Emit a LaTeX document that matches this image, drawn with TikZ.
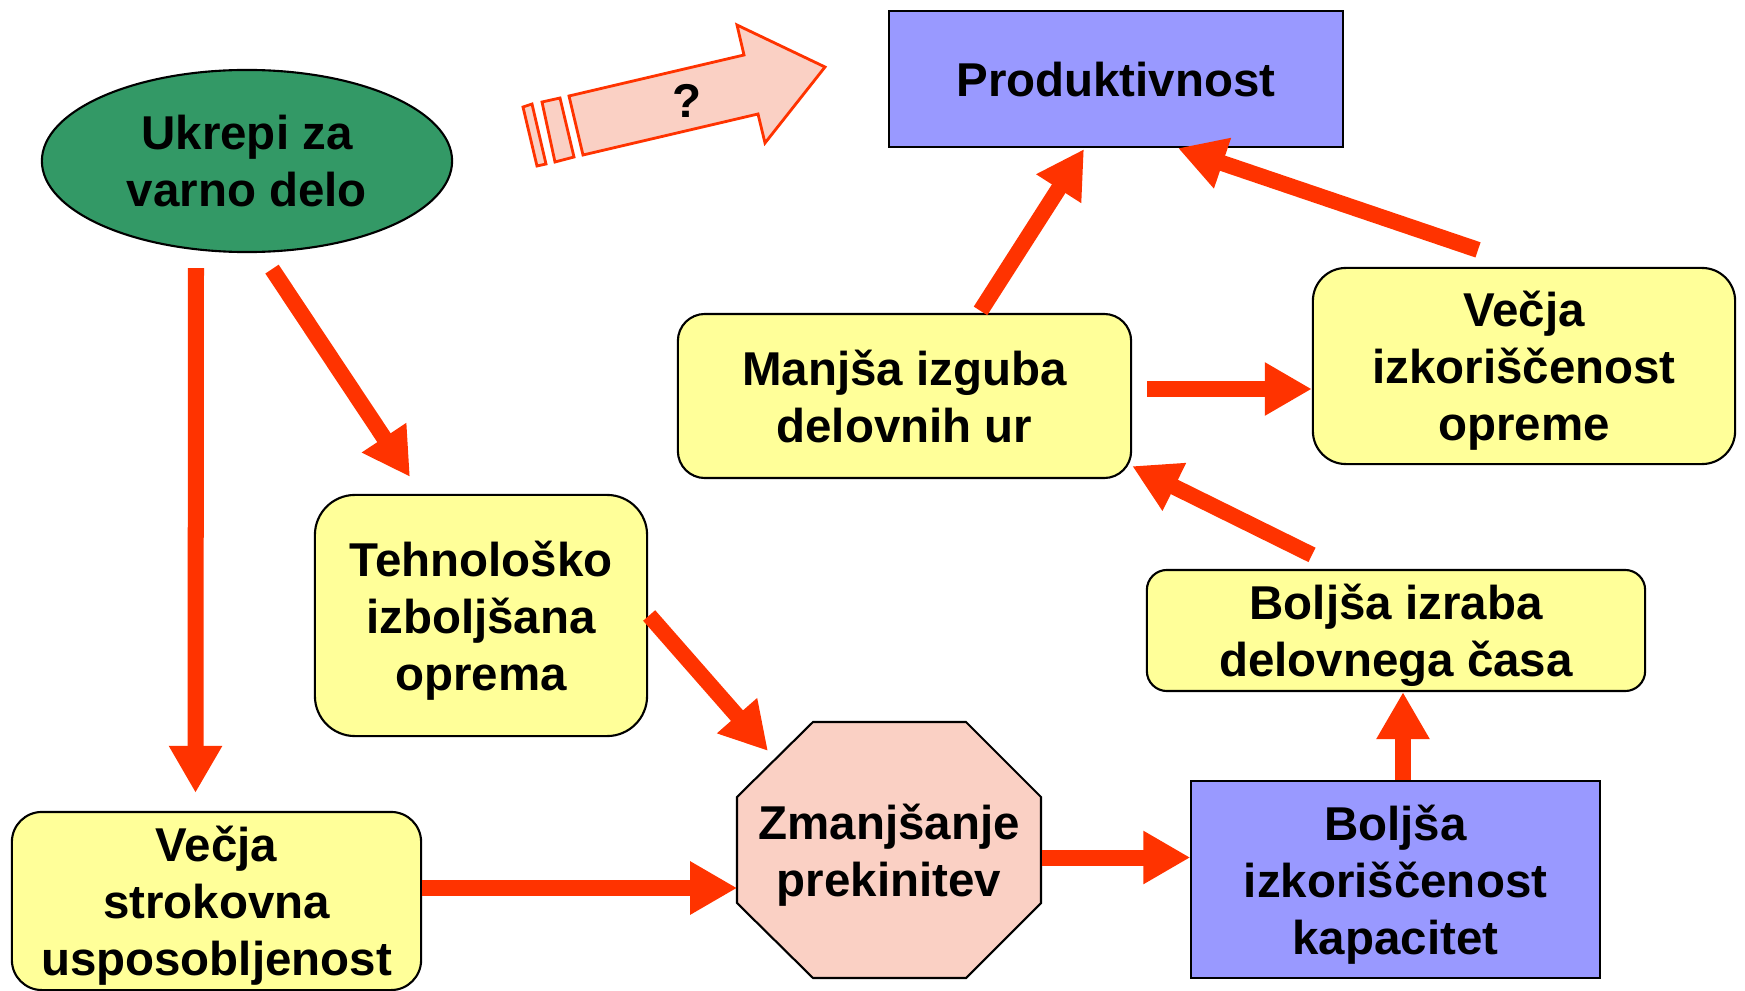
\documentclass[tikz,border=0pt]{standalone}
\usepackage{fontspec}
\setmainfont{Liberation Sans}
\usetikzlibrary{shapes, arrows.meta, positioning, calc}

\definecolor{arrowred}{HTML}{FF3300}
\definecolor{boxyellow}{HTML}{FFFF99}
\definecolor{boxblue}{HTML}{9999FF}
\definecolor{ovalgreen}{HTML}{339966}
\definecolor{stoppink}{HTML}{FAD0C4}

\begin{document}
\begin{tikzpicture}[x=0.01cm, y=-0.01cm,
        every node/.style={font=\fontsize{13.5}{16.2}\selectfont\bfseries, align=center, inner sep=0pt, text depth=0pt},
        box/.style={draw, rectangle, rounded corners=0.3cm, fill=boxyellow, line width=0.6pt},
        bluebox/.style={draw, rectangle, fill=boxblue, line width=0.6pt},
        stopsign/.style={draw, fill=stoppink, line width=0.6pt},
        fatarrow/.style={draw=arrowred, fill=stoppink, line width=0.8pt, line join=miter},
        arrow/.style={-{Triangle[length=0.47cm, width=0.5cm]}, line width=0.16cm, arrowred}
    ]
        \useasboundingbox (0,0) rectangle (1745,991);

        % Zones
        \node[ellipse, draw, fill=ovalgreen, line width=0.6pt, minimum width=4.1cm, minimum height=1.82cm] (ukrepi) at (247,161) {Ukrepi za\\varno delo};
        \node[bluebox, minimum width=4.54cm, minimum height=1.36cm] (prod) at (1116,79) {Produktivnost};
        \node[box, rounded corners=0.27cm, minimum width=4.53cm, minimum height=1.64cm] (manj) at (904.5,396) {Manjša izguba\\delovnih ur};
        \node[box, rounded corners=0.33cm, minimum width=4.22cm, minimum height=1.96cm] (opreme) at (1524,366) {Večja\\izkoriščenost\\opreme};
        \node[box, rounded corners=0.4cm, minimum width=3.32cm, minimum height=2.41cm] (teh) at (481,615.5) {Tehnološko\\izboljšana\\oprema};
        \node[box, rounded corners=0.2cm, minimum width=4.98cm, minimum height=1.21cm] (izraba) at (1396,630.5) {Boljša izraba\\delovnega časa};
        \node[box, minimum width=4.09cm, minimum height=1.78cm] (strok) at (216.5,901) {Večja\\strokovna\\usposobljenost};
        \node[bluebox, minimum width=4.08cm, minimum height=1.97cm] (kap) at (1395.5,879.5) {Boljša\\izkoriščenost\\kapacitet};
        \draw[stopsign] (813,722) -- (966,722) -- (1041,797) -- (1041,903) -- (966,978) -- (813,978) -- (737,903) -- (737,797) -- cycle;
        \node[minimum width=3.04cm, minimum height=2.56cm] (zman) at (889,850) {Zmanjšanje\\prekinitev};

        % Striped arrow
        \draw[fatarrow] (569,96) -- (744,55) -- (737,25) -- (825,67) -- (765,143) -- (758,114) -- (583,155) -- cycle;
        \draw[fatarrow] (542,102) -- (560,98) -- (574,157) -- (555,162) -- cycle;
        \draw[fatarrow] (523,107) -- (532,104) -- (546,164) -- (537,166) -- cycle;
        \node (q) at (687,101) {?};

        % Arrows
        \draw[arrow] ($(ukrepi.south)+(-51,15)$) -- ($(strok.north)+(-21,-18)$);
        \draw[arrow] ($(ukrepi.south)+(25,16)$) -- ($(teh.north)+(-71,-17)$);
        \draw[arrow] ($(teh.east)+(1,0)$) -- ($(zman.center)+(-121,-99)$);
        \draw[arrow] ($(strok.east)+(0,-13)$) -- ($(zman.west)+(1,38)$);
        \draw[arrow] ($(zman.east)+(0,7.5)$) -- ($(kap.west)+(0,-22)$);
        \draw[arrow] ($(kap.north)+(7.5,0)$) -- ($(izraba.south)+(7,0)$);
        \draw[arrow] ($(izraba.north)+(-84,-14)$) -- ($(manj.south east)+(0,-13)$);
        \draw[arrow] ($(manj.east)+(15,-7)$) -- ($(opreme.west)+(0,23)$);
        \draw[arrow] ($(manj.north)+(76,-2)$) -- ($(prod.south)+(-32,1)$);
        \draw[arrow] ($(opreme.north)+(-46,-17)$) -- ($(prod.south)+(62,0)$);

    \end{tikzpicture}
\end{document}
